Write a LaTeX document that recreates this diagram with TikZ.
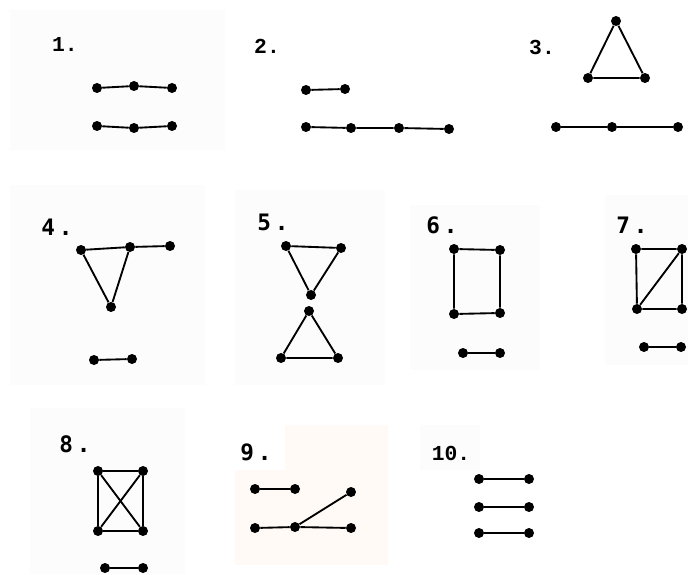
\documentclass[tikz,border=0pt]{standalone}
\usepackage{fontspec}
\setmonofont{Liberation Mono}
\newfontfamily\boldlab{DejaVu Sans Mono}[BoldFont={DejaVu Sans Mono Bold}]
\begin{document}
\begin{tikzpicture}[x=0.75pt,y=-0.75pt,
  v/.style={circle,fill=black,inner sep=0pt,minimum size=7.5pt},
  e/.style={line width=1.4pt,black},
  lab/.style={font=\ttfamily\fontsize{16}{16}\selectfont\bfseries,inner sep=0pt},
  labb/.style={font=\boldlab\fontsize{17}{17}\selectfont\bfseries,inner sep=0pt},
  panel/.style={fill=black!1,draw=none}]
\useasboundingbox (0,0) rectangle (688,574);
\fill[white] (0,0) rectangle (688,574);
% faint panels
\path[panel] (10,10) rectangle (225,150);
\path[panel] (10,185) rectangle (205,385);
\path[panel] (235,190) rectangle (385,385);
\path[panel] (410,205) rectangle (540,370);
\path[panel] (605,195) rectangle (688,365);
\path[panel] (30,408) rectangle (185,574);
\path[fill=orange!4] (235,425) rectangle (388,565);
\path[fill=white] (232,422) rectangle (285,470);
\path[panel] (420,425) rectangle (480,470);
% 1
\node[lab] (l1) at (65,44) {1.};
\node[v] (a1) at (97,88) {}; \node[v] (b1) at (134,86) {}; \node[v] (c1) at (172,88) {};
\node[v] (d1) at (97,126) {}; \node[v] (e1) at (134,128) {}; \node[v] (f1) at (172,126) {};
\draw[e] (a1)--(b1)--(c1); \draw[e] (d1)--(e1)--(f1);
% 2
\node[lab] (l2) at (267,46) {2.};
\node[v] (a2) at (306,90) {}; \node[v] (b2) at (345,89) {};
\node[v] (c2) at (306,127) {}; \node[v] (d2) at (351,128) {}; \node[v] (e2) at (399,128) {}; \node[v] (f2) at (449,129) {};
\draw[e] (a2)--(b2); \draw[e] (c2)--(d2)--(e2)--(f2);
% 3
\node[lab] (l3) at (542,47) {3.};
\node[v] (a3) at (616,21) {}; \node[v] (b3) at (588,78) {}; \node[v] (c3) at (645,78) {};
\node[v] (d3) at (556,127) {}; \node[v] (e3) at (612,127) {}; \node[v] (f3) at (678,127) {};
\draw[e] (a3)--(b3)--(c3)--(a3); \draw[e] (d3)--(e3)--(f3);
% 4
\node[labb] (l4) at (57,227) {4\,.};
\node[v] (a4) at (81,250) {}; \node[v] (b4) at (130,247) {}; \node[v] (c4) at (170,246) {}; \node[v] (d4) at (111,307) {};
\node[v] (e4) at (94,360) {}; \node[v] (f4) at (132,359) {};
\draw[e] (a4)--(b4)--(c4); \draw[e] (a4)--(d4)--(b4); \draw[e] (e4)--(f4);
% 5
\node[labb] (l5) at (273,222) {5\,.};
\node[v] (a5) at (286,246) {}; \node[v] (b5) at (341,248) {}; \node[v] (c5) at (311,295) {};
\node[v] (d5) at (309,311) {}; \node[v] (e5) at (281,358) {}; \node[v] (f5) at (338,358) {};
\draw[e] (a5)--(b5)--(c5)--(a5); \draw[e] (d5)--(e5)--(f5)--(d5);
% 6
\node[labb] (l6) at (442,225) {6\,.};
\node[v] (a6) at (454,249) {}; \node[v] (b6) at (500,250) {}; \node[v] (c6) at (454,314) {}; \node[v] (d6) at (500,313) {};
\node[v] (e6) at (463,353) {}; \node[v] (f6) at (500,353) {};
\draw[e] (a6)--(b6)--(d6)--(c6)--(a6); \draw[e] (e6)--(f6);
% 7
\node[labb] (l7) at (632,225) {7\,.};
\node[v] (a7) at (636,249) {}; \node[v] (b7) at (682,249) {}; \node[v] (c7) at (637,309) {}; \node[v] (d7) at (682,309) {};
\node[v] (e7) at (644,347) {}; \node[v] (f7) at (681,347) {};
\draw[e] (a7)--(b7)--(d7)--(c7)--(a7); \draw[e] (c7)--(b7); \draw[e] (e7)--(f7);
% 8
\node[labb] (l8) at (75,444) {8\,.};
\node[v] (a8) at (98,471) {}; \node[v] (b8) at (143,471) {}; \node[v] (c8) at (98,531) {}; \node[v] (d8) at (143,531) {};
\node[v] (e8) at (105,568) {}; \node[v] (f8) at (143,568) {};
\draw[e] (a8)--(b8)--(d8)--(c8)--(a8); \draw[e] (a8)--(d8); \draw[e] (b8)--(c8); \draw[e] (e8)--(f8);
% 9
\node[labb] (l9) at (256,452) {9\,.};
\node[v] (a9) at (255,489) {}; \node[v] (b9) at (295,489) {};
\node[v] (c9) at (255,528) {}; \node[v] (d9) at (295,527) {}; \node[v] (e9) at (351,528) {}; \node[v] (f9) at (351,492) {};
\draw[e] (a9)--(b9); \draw[e] (c9)--(d9)--(e9); \draw[e] (d9)--(f9);
% 10
\node[lab] (l10) at (451,453) {10.};
\node[v] (a10) at (479,479) {}; \node[v] (b10) at (529,479) {};
\node[v] (c10) at (479,507) {}; \node[v] (d10) at (529,507) {};
\node[v] (e10) at (479,533) {}; \node[v] (f10) at (529,533) {};
\draw[e] (a10)--(b10); \draw[e] (c10)--(d10); \draw[e] (e10)--(f10);
\end{tikzpicture}
\end{document}
